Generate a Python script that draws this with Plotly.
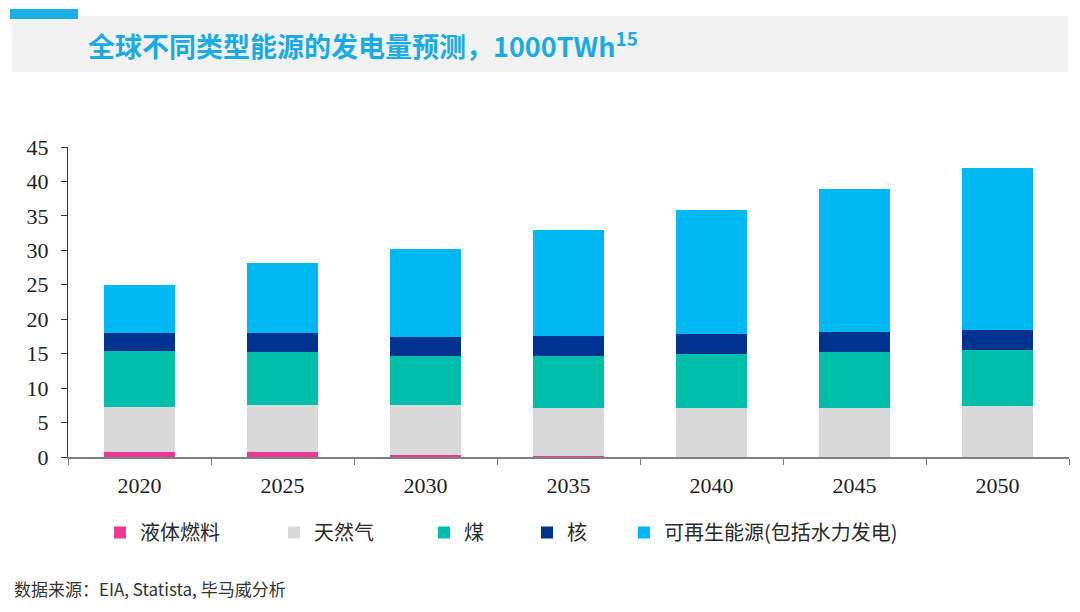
import plotly.graph_objects as go

years = ["2020", "2025", "2030", "2035", "2040", "2045", "2050"]
liquid = [0.7, 0.7, 0.35, 0.1, 0.05, 0.05, 0.05]
gas = [6.5, 6.85, 7.15, 7.05, 7.0, 7.0, 7.35]
coal = [8.2, 7.75, 7.2, 7.55, 7.85, 8.2, 8.1]
nuclear = [2.55, 2.65, 2.75, 2.9, 3.0, 2.95, 2.95]
renewable = [7.05, 10.25, 12.75, 15.35, 17.95, 20.75, 23.45]

names = ["液体燃料", "天然气", "煤", "核", "可再生能源(包括水力发电)"]
colors = ["#EC3A93", "#D9D9D9", "#00BFAA", "#00338F", "#00B8F2"]
values = [liquid, gas, coal, nuclear, renewable]

# plot area geometry (pixels)
L, R, T, B = 68, 11, 147, 155
PW, PH = 1080 - L - R, 612 - T - B

def px_x(px):
    return (px - L) / PW

def px_y(py):
    return (612 - B - py) / PH

cjk = "Noto Sans CJK SC"
legend_px = [100, 274, 424, 527, 624]

fig = go.Figure()
layout_legends = {}
for i, (name, vals, col) in enumerate(zip(names, values, colors)):
    key = "legend" if i == 0 else f"legend{i + 1}"
    fig.add_trace(go.Bar(x=years, y=vals, name=name,
                         marker=dict(color=col, line=dict(width=0)),
                         width=0.5, legend=key))
    layout_legends[key] = dict(orientation="h", x=px_x(legend_px[i]), xanchor="left",
                               y=px_y(513), yanchor="top", bgcolor="rgba(0,0,0,0)",
                               font=dict(family=cjk, size=20, color="#2A2A2A"),
                               itemwidth=30)

fig.update_layout(
    barmode="stack",
    width=1080, height=612,
    margin=dict(l=L, r=R, t=T, b=B),
    paper_bgcolor="white", plot_bgcolor="white",
    showlegend=True,
    xaxis=dict(type="category", showline=True, linecolor="#808080", linewidth=1.5,
               ticks="outside", tickson="boundaries", ticklen=6, tickcolor="#808080",
               tickfont=dict(family="Liberation Serif", size=22, color="#222222"),
               ticklabelstandoff=8, showgrid=False),
    yaxis=dict(range=[0, 45], dtick=5, showline=True, linecolor="#333333", linewidth=1.2,
               ticks="outside", ticklen=6, tickcolor="#333333",
               tickfont=dict(family="Liberation Serif", size=22, color="#222222"),
               ticklabelstandoff=8, showgrid=False, zeroline=False),
    shapes=[
        dict(type="rect", xref="paper", yref="paper", x0=px_x(12), x1=px_x(1068),
             y0=px_y(72), y1=px_y(16),
             fillcolor="#F2F2F2", line=dict(width=0), layer="below"),
        dict(type="rect", xref="paper", yref="paper", x0=px_x(10), x1=px_x(78),
             y0=px_y(19), y1=px_y(9),
             fillcolor="#1AAFE6", line=dict(width=0)),
    ],
    annotations=[
        dict(text="<b>全球不同类型能源的发电量预测，1000TWh<sup>15</sup></b>",
             xref="paper", yref="paper", x=px_x(86), y=px_y(45),
             xanchor="left", yanchor="middle", showarrow=False,
             font=dict(family=cjk, size=27, color="#1AABE3")),
        dict(text="数据来源：EIA, Statista, 毕马威分析",
             xref="paper", yref="paper", x=px_x(12), y=px_y(588),
             xanchor="left", yanchor="middle", showarrow=False,
             font=dict(family=cjk, size=17, color="#333333")),
    ],
    **layout_legends,
)

fig.write_html("out.html", config={"displayModeBar": False},
               post_script="document.body.style.margin='0';document.body.style.overflow='hidden';")
